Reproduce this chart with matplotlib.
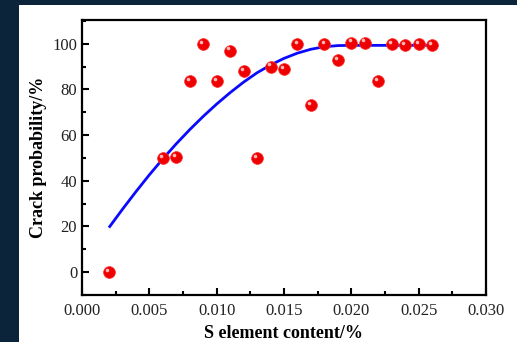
import numpy as np
import matplotlib
matplotlib.use('Agg')
import matplotlib.pyplot as plt
import matplotlib.transforms as mtransforms
from matplotlib.patches import Rectangle
from matplotlib.ticker import MultipleLocator

# measured points
s_content = [0.002, 0.006, 0.007, 0.008, 0.009, 0.010, 0.011, 0.012, 0.013, 0.014, 0.015,
             0.016, 0.017, 0.018, 0.019, 0.020, 0.021, 0.022, 0.023, 0.024, 0.025, 0.026]
crack_prob = [0, 50, 50.5, 83.5, 100, 83.5, 97, 88, 50, 90, 89,
              100, 73, 100, 93, 100.5, 100.5, 83.5, 100, 99.5, 99.8, 99.5]

# fitted curve
fit_x = [0.002, 0.003, 0.004, 0.005, 0.006, 0.007, 0.008, 0.009, 0.010, 0.011, 0.012,
         0.013, 0.014, 0.015, 0.016, 0.017, 0.018, 0.019, 0.020, 0.021, 0.022, 0.023,
         0.024, 0.025, 0.0258]
fit_y = [19.5, 27.5, 35.2, 42.6, 49.6, 56.2, 62.4, 68.2, 73.6, 78.6, 83.2,
         87.3, 90.7, 93.6, 95.9, 97.6, 98.7, 99.2, 99.3, 99.3, 99.3, 99.3,
         99.3, 99.3, 99.3]

plt.rcParams['font.family'] = 'Liberation Serif'

fig = plt.figure(figsize=(5.17, 3.42), dpi=100, facecolor='#0c2439')
# white panel behind the chart
fig.add_artist(Rectangle((19 / 517, 0), 1 - 19 / 517, 337 / 342,
                         transform=fig.transFigure, facecolor='white',
                         edgecolor='none', zorder=-5))
ax = fig.add_axes([0.1586, 0.1374, 0.7814, 0.8041])
ax.set_zorder(1)
ax.patch.set_alpha(0)

ax.plot(fit_x, fit_y, color='#0a0aff', lw=2.0, zorder=2, solid_capstyle='butt')

# red balls with a small highlight
ax.plot(s_content, crack_prob, 'o', ms=8.5, color='#ee0000', mec='#ff3030', mew=0.5, zorder=3)
hl = ax.transData + mtransforms.ScaledTranslation(-1.3 / 72, 1.6 / 72, fig.dpi_scale_trans)
ax.plot(s_content, crack_prob, 'o', ms=2.6, color='#ffb8b8', mec='none', zorder=4,
        transform=hl)

ax.set_xlim(0, 0.030)
ax.set_ylim(-10, 110.4)
ax.xaxis.set_minor_locator(MultipleLocator(0.0025))
ax.yaxis.set_minor_locator(MultipleLocator(10))
ax.set_yticks([0, 20, 40, 60, 80, 100])
ax.set_xticks([0, 0.005, 0.010, 0.015, 0.020, 0.025, 0.030])
ax.set_xticklabels(['%.3f' % t for t in ax.get_xticks()])

ax.tick_params(which='both', direction='in', top=False, right=False, width=1.5,
               labelsize=12, labelcolor='#222222')
ax.tick_params(which='major', length=5)
ax.tick_params(which='minor', length=3)
ax.tick_params(axis='x', pad=6)
for sp in ax.spines.values():
    sp.set_linewidth(1.6)

ax.set_xlabel('S element content/%', fontsize=13, fontweight='bold', labelpad=4)
ax.set_ylabel('Crack probability/%', fontsize=13, fontweight='bold', labelpad=4)

fig.savefig('out.png', dpi=100, facecolor=fig.get_facecolor())
